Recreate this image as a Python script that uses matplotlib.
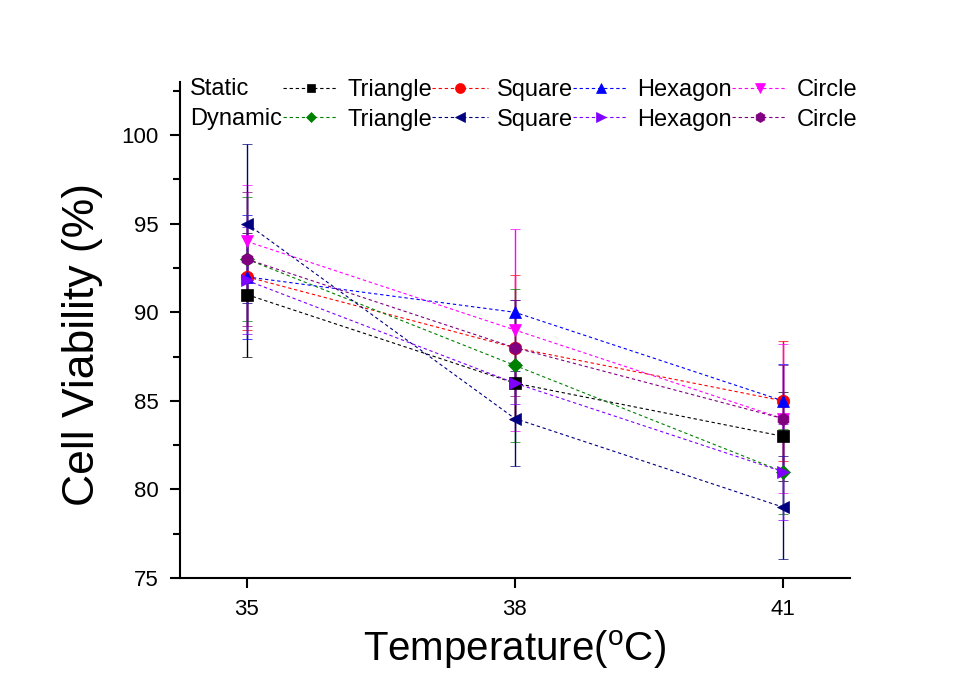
import matplotlib.pyplot as plt
from matplotlib.lines import Line2D

plt.rcParams['font.family'] = ['Liberation Sans', 'DejaVu Sans']

# Datos
temperaturas = [35, 38, 41]

estatico_triangulo = [91, 86, 83]
estatico_cuadrado = [92, 88, 85]
estatico_hexagono = [92, 90, 85]
estatico_circulo = [94, 89, 84]
dinamico_triangulo = [93, 87, 81]
dinamico_cuadrado = [95, 84, 79]
dinamico_hexagono = [91.8, 86, 81]
dinamico_circulo = [93, 88, 84]

err_est_triangulo = [3.5, 2.0, 2.5]
err_est_cuadrado = [3.0, 4.1, 3.4]
err_est_hexagono = [3.5, 0.7, 2.1]
err_est_circulo = [3.2, 5.7, 4.2]
err_din_triangulo = [3.5, 4.3, 2.4]
err_din_cuadrado = [4.5, 2.7, 2.9]
err_din_hexagono = [3.0, 1.2, 2.7]
err_din_circulo = [3.8, 2.7, 3.0]

series = [
    (estatico_triangulo, err_est_triangulo, "black", "s", 8),
    (estatico_cuadrado, err_est_cuadrado, "#FF0000", "o", 9),
    (estatico_hexagono, err_est_hexagono, "#0000FF", "^", 9),
    (estatico_circulo, err_est_circulo, "#FF00FF", "v", 9),
    (dinamico_triangulo, err_din_triangulo, "#008000", "D", 7),
    (dinamico_cuadrado, err_din_cuadrado, "#000080", "<", 9),
    (dinamico_hexagono, err_din_hexagono, "#8000FF", ">", 9),
    (dinamico_circulo, err_din_circulo, "#800080", "h", 9),
]
etiquetas = ["Triangle", "Square", "Hexagon", "Circle"]

fig = plt.figure(figsize=(9.72, 6.86), dpi=100)
ax = fig.add_axes([0.185, 0.1574, 0.6895, 0.7231])

handles = []
for valores, errores, color, marcador, tam in series:
    ax.errorbar(temperaturas, valores, yerr=errores, color=color, ecolor=color,
                elinewidth=1.0, capsize=3.5, capthick=1.0,
                marker=marcador, markersize=tam, markeredgewidth=0.5,
                linestyle=(0, (3, 2.5)), linewidth=0.8)
    handles.append(Line2D([], [], color=color, marker=marcador, markersize=tam * 0.8,
                          markeredgewidth=0.5, linestyle=(0, (3, 2.5)), linewidth=0.8))

ax.set_xlim(34.25, 41.75)
ax.set_ylim(75, 103)
ax.set_xticks(temperaturas)
ax.set_yticks([75, 80, 85, 90, 95, 100])
ax.set_yticks([77.5, 82.5, 87.5, 92.5, 97.5, 102.5], minor=True)

ax.spines['top'].set_visible(False)
ax.spines['right'].set_visible(False)
ax.spines['left'].set_linewidth(1.5)
ax.spines['bottom'].set_linewidth(1.5)
ax.tick_params(axis='both', which='major', direction='out', length=7, width=1.5,
               labelsize=16, pad=8)
ax.tick_params(axis='y', which='minor', direction='out', length=5, width=1.5)

ax.set_xlabel("Temperature($\\mathregular{^{o}}$C)", fontsize=29, labelpad=6)
ax.set_ylabel("Cell Viability (%)", fontsize=32)
ax.yaxis.set_label_coords(-0.115, 0.47)

# Leyenda
orden = [handles[0], handles[4], handles[1], handles[5],
         handles[2], handles[6], handles[3], handles[7]]
nombres = [etiquetas[0], etiquetas[0], etiquetas[1], etiquetas[1],
           etiquetas[2], etiquetas[2], etiquetas[3], etiquetas[3]]
fig.legend(orden, nombres, ncol=4, loc='upper left',
           bbox_to_anchor=(283 / 972, 1 - 79 / 686), frameon=False,
           fontsize=17, handlelength=2.35, handletextpad=0.38,
           columnspacing=0.0, labelspacing=0.32, borderpad=0, borderaxespad=0)
fig.text(190 / 972, 1 - 89 / 686, "Static", fontsize=17, va='center', ha='left')
fig.text(190 / 972, 1 - 119 / 686, "Dynamic", fontsize=17, va='center', ha='left')

plt.savefig("out.png", dpi=100)
plt.close()
